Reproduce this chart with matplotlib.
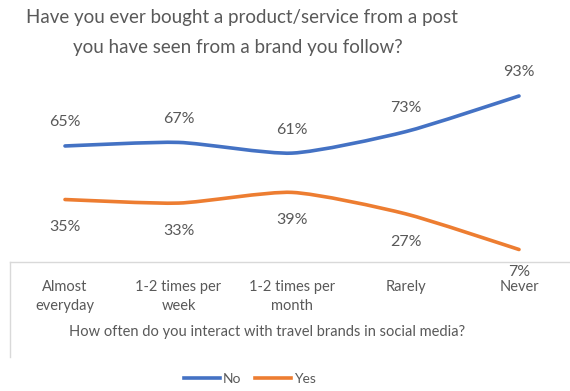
import matplotlib
matplotlib.use("Agg")
import matplotlib.pyplot as plt
from matplotlib.path import Path
from matplotlib.patches import PathPatch
from matplotlib.lines import Line2D

plt.rcParams['font.family'] = ['Lato', 'DejaVu Sans']

categories = ["Almost\neveryday", "1-2 times per\nweek", "1-2 times per\nmonth", "Rarely", "Never"]
no_values = [65, 67, 61, 73, 93]
yes_values = [35, 33, 39, 27, 7]
series_names = ["No", "Yes"]

BLUE = "#4472C4"
ORANGE = "#ED7D31"
TEXT = "#595959"
GRID = "#D9D9D9"

W, H = 570, 391
fig = plt.figure(figsize=(W / 100, H / 100), dpi=100)
fig.patch.set_facecolor("white")

# plot area in pixel coordinates
left_px, right_px = 10, 570
top_px, bottom_px = 83.5, 262
ax = fig.add_axes([left_px / W, 1 - bottom_px / H,
                   (right_px - left_px) / W, (bottom_px - top_px) / H])
ax.set_ylim(0, 100)
step = 113.5
x0 = 65
ax.set_xlim((left_px - x0) / step, (right_px - x0) / step)

for s in ["top", "right", "left"]:
    ax.spines[s].set_visible(False)
ax.spines["bottom"].set_color(GRID)
ax.spines["bottom"].set_linewidth(1.0)
ax.set_yticks([])

xs = list(range(len(categories)))
ax.set_xticks(xs)
ax.set_xticklabels(categories, fontsize=10.5, color=TEXT, linespacing=1.45)
ax.tick_params(axis="x", length=0, pad=13)
for lbl in ax.get_xticklabels():
    lbl.set_verticalalignment("top")


def smooth_path(xv, yv, tension=0.11):
    """Bezier path through the points with Catmull-Rom style tangents."""
    pts = list(zip(xv, yv))
    verts = [pts[0]]
    codes = [Path.MOVETO]
    n = len(pts)
    for i in range(n - 1):
        p0 = pts[i - 1] if i > 0 else pts[i]
        p1 = pts[i]
        p2 = pts[i + 1]
        p3 = pts[i + 2] if i + 2 < n else pts[i + 1]
        c1 = (p1[0] + (p2[0] - p0[0]) * tension, p1[1] + (p2[1] - p0[1]) * tension)
        c2 = (p2[0] - (p3[0] - p1[0]) * tension, p2[1] - (p3[1] - p1[1]) * tension)
        verts += [c1, c2, p2]
        codes += [Path.CURVE4] * 3
    return Path(verts, codes)


for vals, color in [(no_values, BLUE), (yes_values, ORANGE)]:
    patch = PathPatch(smooth_path(xs, vals), facecolor="none", edgecolor=color,
                      linewidth=2.6, capstyle="round", joinstyle="round")
    ax.add_patch(patch)

for x, v in zip(xs, no_values):
    ax.annotate(f"{v}%", (x, v), xytext=(0, 17), textcoords="offset points",
                ha="center", va="center", fontsize=11.5, color=TEXT)
for x, v in zip(xs, yes_values):
    off = -16 if v < 10 else -20
    ax.annotate(f"{v}%", (x, v), xytext=(0, off), textcoords="offset points",
                ha="center", va="center", fontsize=11.5, color=TEXT, zorder=5)

# left border of the chart frame below the axis
fig.add_artist(Line2D([left_px / W, left_px / W], [1 - bottom_px / H, 1 - 357 / H],
                      color=GRID, linewidth=1.0))

fig.text(242 / W, 1 - 18 / H, "Have you ever bought a product/service from a post",
         ha="center", va="center", fontsize=13.5, color=TEXT)
fig.text(238 / W, 1 - 47 / H, "you have seen from a brand you follow?",
         ha="center", va="center", fontsize=13.5, color=TEXT)

fig.text(267 / W, 1 - 332 / H, "How often do you interact with travel brands in social media?",
         ha="center", va="center", fontsize=10.5, color=TEXT)

handles = [Line2D([], [], color=BLUE, linewidth=2.6),
           Line2D([], [], color=ORANGE, linewidth=2.6)]
fig.legend(handles, series_names, loc="center", bbox_to_anchor=(250 / W, 1 - 379 / H),
           ncol=2, frameon=False, fontsize=10, handlelength=2.6, handletextpad=0.2,
           columnspacing=1.0, labelcolor=TEXT)

fig.savefig("out.png", dpi=100, facecolor="white")
